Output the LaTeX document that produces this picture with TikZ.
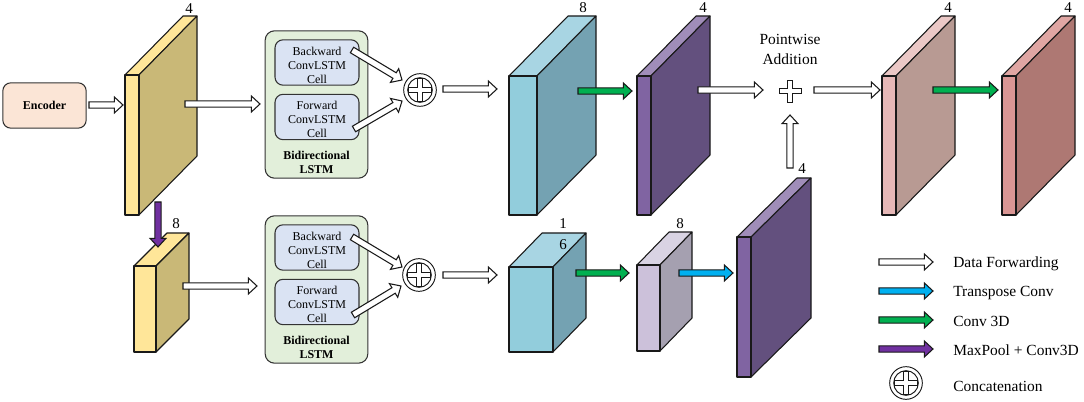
\documentclass[tikz,border=0pt]{standalone}
\usepackage{fontspec}
\setmainfont{Liberation Serif}
\usetikzlibrary{calc}
\definecolor{encfill}{HTML}{FBE5D6}
\definecolor{lstmfill}{HTML}{E2EFDA}
\definecolor{cellfill}{HTML}{DAE3F3}
\definecolor{yelF}{HTML}{FFE699}
\definecolor{yelS}{HTML}{C9B877}
\definecolor{tealF}{HTML}{92CDDC}
\definecolor{tealS}{HTML}{74A2B2}
\definecolor{tealT}{HTML}{A8D5E3}
\definecolor{purF}{HTML}{8064A2}
\definecolor{purS}{HTML}{63507E}
\definecolor{purT}{HTML}{A08DB9}
\definecolor{lilF}{HTML}{CCC1DA}
\definecolor{lilS}{HTML}{A5A0B0}
\definecolor{lilT}{HTML}{D9D3E3}
\definecolor{pnkF}{HTML}{E6B8B7}
\definecolor{pnkS}{HTML}{B89A93}
\definecolor{pnkT}{HTML}{EBC8C6}
\definecolor{redF}{HTML}{DA9694}
\definecolor{redS}{HTML}{AE7873}
\definecolor{redT}{HTML}{E0A6A3}
\definecolor{arGreen}{HTML}{00B050}
\definecolor{arBlue}{HTML}{00B0F0}
\definecolor{arPurple}{HTML}{7030A0}
\tikzset{
  edge/.style={draw=black!90,line width=0.8pt,line join=miter},
  cubedge/.style={draw=black!90,line width=0.8pt,line join=round},
  encbox/.style={draw=black!80,line width=0.8pt,rounded corners=6pt,fill=encfill,inner sep=0pt,font=\fontsize{9pt}{10.5pt}\selectfont\bfseries},
  lstmbox/.style={draw=black!80,line width=0.8pt,rounded corners=7pt,fill=lstmfill,inner sep=0pt},
  cellbox/.style={draw=black!80,line width=0.8pt,rounded corners=6pt,fill=cellfill,inner sep=0pt},
  celltext/.style={align=center,inner sep=0pt,font=\fontsize{9pt}{10.5pt}\selectfont},
  lstmtext/.style={align=center,inner sep=0pt,font=\fontsize{9pt}{10.5pt}\selectfont\bfseries},
  dimtext/.style={inner sep=0pt,font=\fontsize{11.25pt}{13pt}\selectfont},
  addtext/.style={align=center,inner sep=0pt,font=\fontsize{11.6pt}{15pt}\selectfont},
  legtext/.style={anchor=west,inner sep=0pt,font=\fontsize{11.6pt}{14pt}\selectfont},
  ring/.style={circle,draw=black!90,line width=0.7pt,fill=white,inner sep=0pt,minimum size=#1},
}
% cuboid: name, x1, x2, ytop, ybot, dx, dy, side, top
\newcommand{\cuboid}[9]{%
  \coordinate (#1-a) at (#2,#4);
  \coordinate (#1-b) at (#3,#4);
  \coordinate (#1-c) at (#3,#5);
  \coordinate (#1-d) at (#2,#5);
  \path[cubedge,fill=#9] (#1-a) -- ++(#6,-#7) -- ($(#1-b)+(#6,-#7)$) -- (#1-b) -- cycle;
  \path[cubedge,fill=#8] (#1-b) -- ($(#1-b)+(#6,-#7)$) -- ($(#1-c)+(#6,-#7)$) -- (#1-c) -- cycle;
}
\newcommand{\cubfront}[2]{\path[cubedge,fill=#2] (#1-a) -- (#1-b) -- (#1-c) -- (#1-d) -- cycle;}
% block arrow: fill, from, to
\newcommand{\blockarrow}[3]{%
  \coordinate (hb) at ($(#3)!6.5pt!(#2)$);
  \path[edge,fill=#1]
    ($(#2)!2.4pt!90:(#3)$) -- ($(hb)!2.4pt!-90:(#2)$) -- ($(hb)!6pt!-90:(#2)$) -- (#3)
    -- ($(hb)!6pt!90:(#2)$) -- ($(hb)!2.4pt!90:(#2)$) -- ($(#2)!2.4pt!-90:(#3)$) -- cycle;
}
% plus sign: centre, arm, half width
\newcommand{\plusmark}[3]{%
  \path[edge,line width=0.7pt,fill=white] ($(#1)+(-#3,-#3)$) -- ($(#1)+(-#3,-#2)$) -- ($(#1)+(#3,-#2)$) -- ($(#1)+(#3,-#3)$)
   -- ($(#1)+(#2,-#3)$) -- ($(#1)+(#2,#3)$) -- ($(#1)+(#3,#3)$) -- ($(#1)+(#3,#2)$) -- ($(#1)+(-#3,#2)$)
   -- ($(#1)+(-#3,#3)$) -- ($(#1)+(-#2,#3)$) -- ($(#1)+(-#2,-#3)$) -- cycle;
}
\newcommand{\concat}[2]{%
  \node[ring=24.5pt] (#1) at (#2) {};
  \node[ring=18.5pt] (#1i) at (#2) {};
  \plusmark{#1}{11.5}{2.5}
}
\newcommand{\lstmgroup}[2]{% prefix, y offset
  \node[lstmbox,minimum width=77pt,minimum height=110.5pt] (#1box) at (316.5,104.5+#2) {};
  \node[cellbox,minimum width=63pt,minimum height=34pt] (#1back) at (317,62.5+#2) {};
  \node[cellbox,minimum width=63pt,minimum height=34pt] (#1forw) at (317,117+#2) {};
  \node[celltext] (#1backt) at (317,65+#2) {Backward\\ConvLSTM\\Cell};
  \node[celltext] (#1forwt) at (317,119+#2) {Forward\\ConvLSTM\\Cell};
  \node[lstmtext] (#1lab) at (316.5,162+#2) {Bidirectional\\LSTM};
}
\begin{document}
\begin{tikzpicture}[x=0.75pt,y=-0.75pt]
\useasboundingbox (0,0) rectangle (1084,402);
% encoder
\node[encbox,minimum width=62.5pt,minimum height=34pt] (enc) at (44.5,105.5) {Encoder};
% blocks upper row
\cuboid{b1}{125}{139}{75}{215}{58}{59}{yelS}{yelF}\cubfront{b1}{yelF}
\cuboid{b2}{509}{537}{76}{215}{59}{60}{tealS}{tealT}\cubfront{b2}{tealF}
\cuboid{b3}{637}{651}{76}{215}{59}{60}{purS}{purT}\cubfront{b3}{purF}
\cuboid{b4}{882}{896}{76}{215}{59}{60}{pnkS}{pnkT}\cubfront{b4}{pnkF}
\cuboid{b5}{1002}{1016}{76}{215}{59}{60}{redS}{redT}\cubfront{b5}{redF}
% blocks lower row
\cuboid{c1}{134}{156}{266}{352}{33}{33}{yelS}{yelF}\cubfront{c1}{yelF}
\cuboid{c2}{509}{553}{267}{352}{33}{34}{tealS}{tealT}\cubfront{c2}{tealF}
\cuboid{c3}{637}{660}{265}{351}{32}{33}{lilS}{lilT}\cubfront{c3}{lilF}
\cuboid{c4}{737}{751}{237}{377}{60}{59}{purS}{purT}\cubfront{c4}{purF}
% LSTM groups
\lstmgroup{u}{0}
\lstmgroup{l}{185}
\concat{cu}{420,90}
\concat{cl}{419,275}
% labels
\node[dimtext] (d1) at (189,9) {4};
\node[dimtext] (d2) at (583,8) {8};
\node[dimtext] (d3) at (703,8) {4};
\node[dimtext] (d4) at (948,8) {4};
\node[dimtext] (d5) at (1068,8) {4};
\node[dimtext] (d6) at (176,224) {8};
\node[dimtext] (d7) at (563,224) {1};
\node[dimtext] (d8) at (563,245) {6};
\node[dimtext] (d9) at (680,224) {8};
\node[dimtext] (d10) at (802,169) {4};
\node[addtext] (addl) at (790,49) {Pointwise\\Addition};
\coordinate (add) at (790,91);
\plusmark{add}{11}{2.8}
% connector ends
\coordinate (a1s) at (89,105);   \coordinate (a1e) at (123,105);
\coordinate (a2s) at (185,104);  \coordinate (a2e) at (260,104);
\coordinate (a3s) at (352,50);   \coordinate (a3e) at (402,80);
\coordinate (a4s) at (354,129);  \coordinate (a4e) at (402,101);
\coordinate (a5s) at (443,89);   \coordinate (a5e) at (497,89);
\coordinate (a6s) at (578,91);   \coordinate (a6e) at (632,91);
\coordinate (a7s) at (698,90);   \coordinate (a7e) at (763,90);
\coordinate (a8s) at (790,168);  \coordinate (a8e) at (790,115);
\coordinate (a9s) at (814,90);   \coordinate (a9e) at (880,90);
\coordinate (a10s) at (933,90);  \coordinate (a10e) at (998,90);
\coordinate (a11s) at (158,202); \coordinate (a11e) at (158,247);
\coordinate (a12s) at (183,286); \coordinate (a12e) at (257,286);
\coordinate (a13s) at (352,237); \coordinate (a13e) at (402,267);
\coordinate (a14s) at (353,315); \coordinate (a14e) at (401,286);
\coordinate (a15s) at (443,275); \coordinate (a15e) at (497,275);
\coordinate (a16s) at (576,273); \coordinate (a16e) at (629,273);
\coordinate (a17s) at (679,273); \coordinate (a17e) at (733,273);
\blockarrow{white}{a1s}{a1e}
\blockarrow{white}{a2s}{a2e}
\blockarrow{white}{a3s}{a3e}
\blockarrow{white}{a4s}{a4e}
\blockarrow{white}{a5s}{a5e}
\blockarrow{arGreen}{a6s}{a6e}
\blockarrow{white}{a7s}{a7e}
\blockarrow{white}{a8s}{a8e}
\blockarrow{white}{a9s}{a9e}
\blockarrow{arGreen}{a10s}{a10e}
\blockarrow{arPurple}{a11s}{a11e}
\blockarrow{white}{a12s}{a12e}
\blockarrow{white}{a13s}{a13e}
\blockarrow{white}{a14s}{a14e}
\blockarrow{white}{a15s}{a15e}
\blockarrow{arGreen}{a16s}{a16e}
\blockarrow{arBlue}{a17s}{a17e}
% legend
\coordinate (l1s) at (879,262); \coordinate (l1e) at (933,262);
\coordinate (l2s) at (879,291); \coordinate (l2e) at (933,291);
\coordinate (l3s) at (879,320); \coordinate (l3e) at (933,320);
\coordinate (l4s) at (879,349); \coordinate (l4e) at (933,349);
\blockarrow{white}{l1s}{l1e}
\blockarrow{arBlue}{l2s}{l2e}
\blockarrow{arGreen}{l3s}{l3e}
\blockarrow{arPurple}{l4s}{l4e}
\concat{cleg}{906,383}
\node[legtext] (t1) at (953,264) {Data Forwarding};
\node[legtext] (t2) at (953,293) {Transpose Conv};
\node[legtext] (t3) at (953,321) {Conv 3D};
\node[legtext] (t4) at (953,350) {MaxPool + Conv3D};
\node[legtext] (t5) at (953,386) {Concatenation};
\end{tikzpicture}
\end{document}
